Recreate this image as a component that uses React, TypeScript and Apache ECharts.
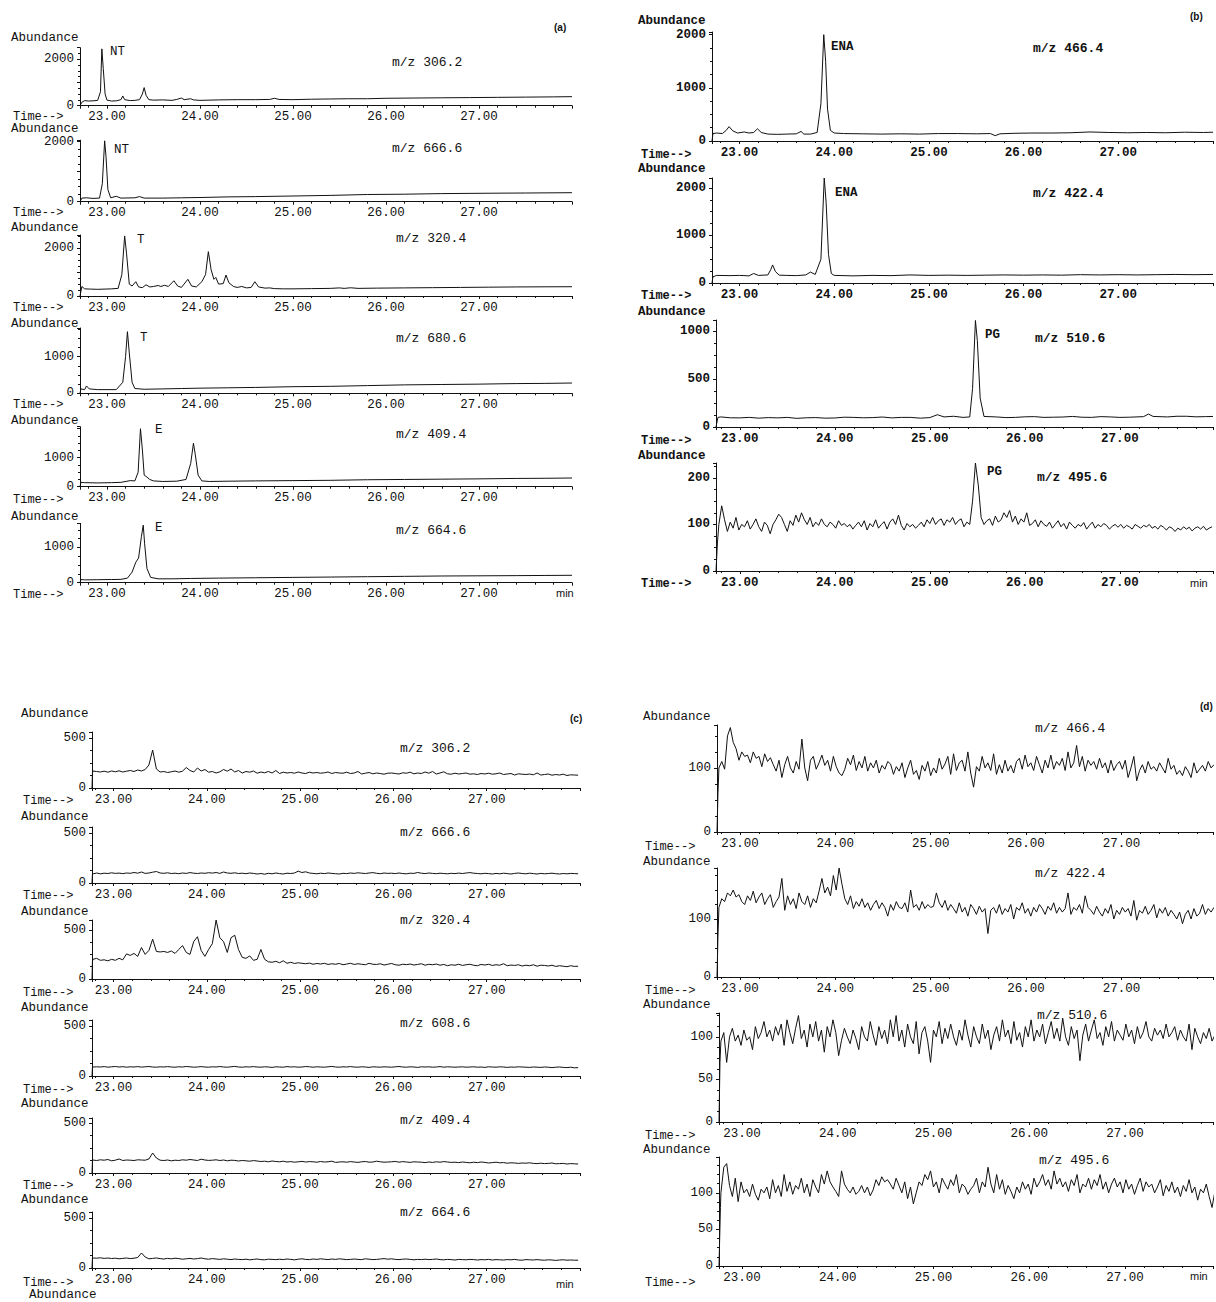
import React, { useEffect, useRef } from "react";
import * as echarts from "echarts";

// ---------- DATA (time in min, abundance) ----------
// Panel (a): sparse readings [time, abundance]
const a1Data: number[][] = [[22.71,0],[22.73,150],[22.76,220],[22.8,200],[22.85,210],[22.9,230],[22.93,600],[22.945,2450],[22.96,1600],[22.98,500],[23.0,240],[23.05,200],[23.1,210],[23.15,260],[23.17,420],[23.19,260],[23.25,220],[23.3,230],[23.35,260],[23.38,500],[23.4,780],[23.42,450],[23.45,260],[23.5,240],[23.6,250],[23.7,230],[23.75,270],[23.8,330],[23.83,260],[23.9,300],[23.93,250],[24.0,230],[24.2,250],[24.4,260],[24.6,260],[24.75,270],[24.8,320],[24.85,270],[25.0,260],[25.2,280],[25.4,290],[25.6,300],[25.8,300],[26.0,320],[26.3,330],[26.6,340],[26.9,350],[27.2,360],[27.5,370],[27.8,380],[28.0,390]];
const a2Data: number[][] = [[22.71,0],[22.73,120],[22.78,130],[22.85,110],[22.92,120],[22.95,600],[22.975,2030],[22.99,1500],[23.01,400],[23.04,130],[23.1,180],[23.15,120],[23.3,130],[23.35,170],[23.4,120],[23.6,120],[23.8,130],[24.0,140],[24.3,160],[24.6,170],[25.0,190],[25.4,210],[25.8,240],[26.2,250],[26.6,270],[27.0,280],[27.5,290],[28.0,300]];
const a3Data: number[][] = [[22.71,0],[22.73,400],[22.76,300],[22.82,290],[22.9,280],[22.98,290],[23.05,300],[23.12,320],[23.16,900],[23.19,2520],[23.21,1800],[23.24,500],[23.27,420],[23.31,600],[23.34,380],[23.38,350],[23.42,470],[23.46,380],[23.5,400],[23.55,440],[23.58,400],[23.62,450],[23.66,400],[23.72,640],[23.76,420],[23.8,360],[23.87,700],[23.91,420],[23.96,380],[24.02,600],[24.06,900],[24.09,1860],[24.12,1100],[24.15,700],[24.17,780],[24.2,500],[24.25,520],[24.28,880],[24.31,560],[24.36,400],[24.4,360],[24.45,400],[24.5,340],[24.55,360],[24.59,600],[24.63,380],[24.7,330],[24.75,340],[24.8,310],[24.9,300],[25.0,300],[25.2,310],[25.4,320],[25.5,340],[25.55,320],[25.62,345],[25.7,320],[25.9,330],[26.2,340],[26.5,350],[26.8,360],[27.1,370],[27.4,380],[27.7,385],[28.0,390]];
const a4Data: number[][] = [[22.71,0],[22.72,120],[22.76,100],[22.78,200],[22.81,120],[22.9,100],[23.0,100],[23.1,100],[23.17,300],[23.2,1000],[23.22,1680],[23.24,1100],[23.27,300],[23.3,130],[23.4,110],[23.6,120],[23.8,130],[24.0,140],[24.3,150],[24.6,160],[25.0,180],[25.4,190],[25.8,210],[26.2,230],[26.6,240],[27.0,250],[27.4,265],[27.7,270],[28.0,280]];
const a5Data: number[][] = [[22.71,0],[22.72,150],[22.76,140],[22.9,130],[23.05,140],[23.15,150],[23.25,210],[23.3,200],[23.335,500],[23.36,2000],[23.38,1300],[23.4,400],[23.43,330],[23.46,250],[23.5,200],[23.6,180],[23.75,190],[23.85,250],[23.9,800],[23.93,1500],[23.95,1100],[23.98,400],[24.02,200],[24.1,180],[24.3,190],[24.6,200],[25.0,210],[25.4,220],[25.8,240],[26.2,250],[26.6,260],[27.0,270],[27.4,285],[27.7,290],[28.0,300]];
const a6Data: number[][] = [[22.71,0],[22.72,90],[22.76,80],[22.9,85],[23.05,90],[23.15,95],[23.22,130],[23.27,300],[23.31,580],[23.34,700],[23.37,1300],[23.39,1630],[23.405,1100],[23.43,400],[23.47,150],[23.55,110],[23.7,110],[23.9,120],[24.2,130],[24.6,140],[25.0,150],[25.4,160],[25.8,170],[26.2,180],[26.6,190],[27.0,195],[27.4,200],[27.7,205],[28.0,210]];

// Panel (b)
const b1Data: number[][] = [[22.71,0],[22.72,140],[22.76,150],[22.82,140],[22.86,200],[22.89,270],[22.93,190],[22.98,150],[23.05,170],[23.1,150],[23.15,160],[23.19,230],[23.23,160],[23.3,130],[23.4,125],[23.5,130],[23.6,135],[23.65,180],[23.68,130],[23.75,130],[23.82,160],[23.86,700],[23.89,2000],[23.91,1500],[23.93,600],[23.96,200],[24.0,150],[24.1,140],[24.3,135],[24.5,130],[24.7,135],[24.9,130],[25.1,140],[25.3,140],[25.5,135],[25.65,140],[25.7,100],[25.75,135],[25.9,145],[26.1,150],[26.3,150],[26.5,155],[26.7,170],[26.9,160],[27.1,155],[27.3,160],[27.5,155],[27.7,165],[27.9,160],[28.0,165]];
const b2Data: number[][] = [[22.71,0],[22.72,130],[22.76,160],[22.9,155],[23.0,160],[23.1,150],[23.15,200],[23.2,160],[23.3,170],[23.33,280],[23.35,380],[23.38,240],[23.42,165],[23.5,160],[23.6,155],[23.7,170],[23.75,230],[23.8,180],[23.86,500],[23.895,2210],[23.915,1700],[23.94,600],[23.97,200],[24.0,160],[24.2,150],[24.4,160],[24.6,155],[24.8,170],[25.0,160],[25.2,165],[25.4,160],[25.6,165],[25.8,170],[26.0,165],[26.2,170],[26.4,165],[26.6,175],[26.8,170],[27.0,175],[27.2,170],[27.4,175],[27.6,180],[27.8,175],[28.0,180]];
const b3Data: number[][] = [[22.75,0],[22.77,100],[22.8,105],[22.9,96],[23.0,95],[23.1,100],[23.2,92],[23.3,98],[23.4,95],[23.5,100],[23.6,90],[23.7,96],[23.8,98],[23.9,92],[24.0,94],[24.1,102],[24.2,100],[24.3,96],[24.4,98],[24.5,104],[24.6,95],[24.7,100],[24.8,100],[24.9,92],[25.0,98],[25.08,128],[25.15,105],[25.25,112],[25.35,100],[25.42,105],[25.45,400],[25.48,1110],[25.5,900],[25.53,300],[25.57,110],[25.7,105],[25.8,98],[25.9,100],[26.0,106],[26.1,108],[26.2,100],[26.3,102],[26.4,104],[26.5,110],[26.6,102],[26.7,100],[26.8,108],[26.9,105],[27.0,100],[27.1,102],[27.25,108],[27.3,135],[27.35,110],[27.5,105],[27.6,112],[27.7,112],[27.8,106],[27.9,108],[27.98,110]];
// Noisy traces: readings at a fixed sampling interval
const NOISY_START = 22.78;
const STEP_B = 0.03;
const b4Start: number[][] = [[22.75,0],[22.765,60]];
const b4Values = [100,140,110,85,105,92,115,88,100,95,108,90,100,112,95,85,105,98,80,100,110,122,115,100,85,108,98,120,105,125,110,100,115,95,105,98,112,100,95,105,100,92,108,98,102,95,100,90,98,105,95,108,88,102,95,110,92,100,106,90,105,112,100,120,98,88,102,95,100,92,98,105,95,110,102,115,100,108,112,98,110,105,115,100,108,112,95,105,100,150,232,185,115,100,108,112,98,118,105,110,125,115,130,105,118,100,112,105,125,98,102,110,95,108,100,96,105,92,100,108,95,102,90,105,98,92,100,96,104,90,98,105,92,100,95,102,98,90,96,100,94,100,92,98,95,90,100,96,92,98,95,100,92,96,90,98,94,88,95,92,85,92,88,95,90,94,86,92,95,90,96,88,92,95];

// Panel (c)
const STEP_C = 0.04;
const c1Values = [170,165,160,168,158,170,162,172,160,168,175,165,180,170,185,230,380,190,160,165,155,162,170,158,168,205,175,160,200,170,185,158,165,150,162,185,168,190,160,175,150,165,158,170,148,160,152,165,150,175,145,158,150,155,148,160,150,145,158,150,155,148,152,160,145,155,150,148,158,145,150,165,140,148,155,142,150,145,138,148,150,145,140,152,148,158,142,150,145,160,148,165,140,150,162,142,138,148,140,145,150,138,142,135,145,140,148,138,142,150,135,140,145,130,142,138,135,140,132,150,130,135,140,128,135,130,138,125,132,130,128];
const c2Values = [95,100,92,98,95,102,96,99,94,100,97,105,98,110,96,100,108,115,100,97,102,95,98,93,100,96,104,98,95,100,97,103,99,105,96,110,100,97,102,95,98,93,100,96,90,95,88,97,92,100,94,90,98,95,100,118,105,112,100,96,92,98,94,100,96,93,90,97,94,100,96,102,98,95,100,104,97,93,100,96,98,94,100,95,92,98,96,105,98,94,100,96,93,98,95,92,97,94,99,95,100,104,98,95,92,97,94,90,96,92,98,94,90,96,100,95,92,98,94,90,96,92,95,98,93,90,95,92,96,94,92];
const c3Values = [200,210,190,195,185,200,190,210,195,255,240,260,230,320,250,290,405,280,275,280,270,285,260,300,340,270,250,380,430,290,230,300,360,600,420,380,270,420,445,300,220,210,235,190,200,300,200,175,170,180,165,185,160,170,158,165,160,155,162,150,158,152,160,148,155,150,158,145,152,160,148,155,150,145,160,150,148,155,142,150,158,145,140,150,146,152,142,148,155,140,150,145,152,140,148,135,145,140,150,138,145,150,140,135,148,142,150,138,145,140,155,135,142,138,145,132,140,135,145,130,140,138,132,140,128,135,130,125,135,128,130];
const c4Values = [95,92,90,94,88,92,95,90,93,88,92,90,94,89,92,95,90,88,92,90,94,90,88,92,90,95,92,88,90,94,90,88,92,90,95,90,88,92,96,90,88,92,90,94,90,88,92,90,86,92,90,88,94,90,92,88,90,95,92,88,92,90,88,92,96,90,88,92,90,94,90,88,92,90,86,92,90,88,92,90,88,92,95,90,88,92,90,86,92,90,92,88,90,94,88,92,90,88,90,92,88,90,92,88,90,86,92,90,88,92,90,86,90,88,92,90,88,86,90,88,86,90,88,84,88,90,86,84,88,82,84];
const c5Values = [130,125,132,128,135,122,128,140,125,130,128,125,132,130,128,140,200,150,128,125,130,122,128,125,132,128,135,130,125,138,130,126,128,132,125,130,122,128,126,120,125,122,118,124,120,115,118,112,120,115,112,118,110,114,108,112,116,110,114,112,108,115,110,112,118,106,110,112,108,114,110,106,112,115,108,110,118,112,108,110,112,116,108,114,110,106,112,110,108,104,110,106,112,108,114,110,106,108,104,110,106,102,108,104,110,106,100,104,108,102,104,98,102,100,96,100,98,102,96,94,98,94,96,100,92,94,96,90,94,92,90];
const c6Values = [105,98,102,96,100,95,98,92,96,100,94,98,105,150,110,92,96,100,94,90,96,92,98,94,88,92,96,90,94,100,92,88,94,90,86,92,88,84,90,86,84,88,82,86,90,84,82,88,86,84,88,84,90,86,82,88,92,86,84,90,86,92,88,84,90,86,92,88,84,86,90,86,84,92,88,84,86,90,94,88,92,86,84,88,90,86,82,86,84,88,84,86,90,84,82,86,84,80,86,84,82,86,84,80,84,82,86,80,84,82,80,84,82,86,80,78,84,82,80,84,80,78,82,80,76,80,82,78,80,78,78];

// Panel (d)
const STEP_D = 0.03;
const d1Start: number[][] = [[22.76,0],[22.77,60]];
const d1Values = [100,110,98,150,163,140,130,112,125,118,120,108,125,115,118,102,122,110,116,105,95,112,85,105,118,100,92,110,98,145,100,80,112,118,98,108,120,104,112,95,118,102,92,88,98,115,105,120,96,110,100,118,95,108,100,112,92,104,98,110,106,90,102,95,108,85,100,112,90,96,82,104,95,110,88,100,92,115,98,106,118,90,122,96,108,112,95,125,92,70,102,95,118,100,108,96,122,90,105,92,112,95,104,92,110,115,98,120,102,108,96,118,105,92,112,100,120,98,110,104,115,96,125,100,108,135,102,118,95,112,104,110,98,115,100,108,92,112,96,105,110,98,112,85,100,118,80,96,105,92,110,98,102,95,108,100,92,115,98,104,90,96,88,102,95,85,108,92,98,104,95,110,100,105];
const d2Start: number[][] = [[22.76,0],[22.77,70]];
const d2Values = [120,135,130,145,140,150,138,142,130,125,140,132,148,128,138,145,125,135,142,120,130,138,170,115,140,125,135,118,145,130,125,140,120,135,128,148,170,145,155,140,175,150,188,160,135,125,140,118,130,122,135,120,128,115,125,132,118,128,120,105,125,115,130,120,118,128,112,150,120,125,115,130,118,125,120,122,145,128,120,132,115,125,118,110,128,112,120,105,125,118,108,122,112,118,75,115,120,110,125,108,118,112,125,100,120,115,128,110,118,105,120,112,125,118,108,122,115,128,110,120,112,118,145,108,120,115,125,110,140,120,115,108,122,112,105,118,110,125,100,115,108,120,112,118,105,132,98,115,110,122,108,115,125,102,118,110,120,105,115,108,100,112,92,108,115,100,118,105,110,125,108,118,112,120];
const d3Start: number[][] = [[22.76,0],[22.77,70]];
const d3Values = [95,105,70,100,110,95,102,90,108,96,100,85,112,98,105,118,100,108,95,112,102,115,90,120,105,92,110,125,98,108,88,115,100,118,95,108,82,112,100,120,105,78,96,110,100,92,108,98,85,112,100,95,118,102,90,112,98,108,92,120,100,125,95,108,88,115,100,92,118,80,105,112,95,70,108,100,118,92,110,98,115,100,90,108,96,120,102,88,112,100,92,115,98,108,85,102,112,95,120,100,108,92,118,96,105,88,112,100,120,95,108,100,115,92,105,118,98,110,95,122,100,90,112,98,108,72,102,115,95,108,120,98,105,90,112,100,118,95,108,102,96,115,100,108,92,112,98,105,118,100,95,110,102,108,98,115,100,105,112,96,108,100,95,115,85,110,100,92,105,98,110,95,102,98];
const d4Start: number[][] = [[22.76,0],[22.775,80]];
const d4Values = [100,135,140,110,95,120,88,115,100,105,95,112,98,90,105,100,108,92,118,100,110,95,125,102,115,98,110,105,120,100,112,95,118,108,100,125,112,130,115,108,102,95,130,112,105,100,108,98,102,110,100,108,96,104,118,110,122,115,118,112,105,120,110,100,115,92,108,85,100,115,110,125,118,130,108,115,100,120,112,105,118,110,125,100,112,108,98,105,110,120,100,115,108,135,112,100,125,105,118,98,110,102,92,108,100,115,105,112,98,120,108,115,125,110,118,105,130,112,120,108,115,102,118,110,125,100,112,108,120,105,118,110,125,105,115,100,112,120,108,115,100,118,105,112,98,110,120,102,115,108,112,100,108,118,96,110,102,115,100,108,95,110,102,118,100,108,90,105,100,112,95,80,102,98];

// Tick labels shown on each abundance axis
const yLabelsA1 = [0, 2000];
const yLabelsA4 = [0, 1000];
const yLabelsB1 = [0, 1000, 2000];
const yLabelsB3 = [0, 500, 1000];
const yLabelsB4 = [0, 100, 200];
const yLabelsC = [0, 500];
const yLabelsD1 = [0, 100];
const yLabelsD3 = [0, 50, 100];
const xLabels = [23, 24, 25, 26, 27];

// ---------- helpers ----------
function sampled(prefix: number[][], start: number, step: number, values: number[]): number[][] {
  return prefix.concat(values.map((v, i) => [Number((start + i * step).toFixed(3)), v]));
}

const MONO = '"Liberation Mono", "DejaVu Sans Mono", monospace';
const SANS = '"Liberation Sans", Arial, sans-serif';
const INK = "#111";

type Tr = {
  data: number[][]; left: number; right: number; xMin: number; xMax: number;
  top: number; zero: number; yMax: number; yStep: number; yLabels: number[];
  ab: [number, number]; time: [number, number]; mz: [string, number, number];
  peak?: [string, number, number]; bold?: boolean;
};

const A = { left: 80, right: 572, xMin: 22.71, xMax: 28.0 };
const BU = { left: 712, right: 1213, xMin: 22.71, xMax: 28.0 };
const BL = { left: 716, right: 1213, xMin: 22.75, xMax: 27.98 };
const C = { left: 92, right: 580, xMin: 22.77, xMax: 28.0 };
const DU = { left: 717, right: 1213, xMin: 22.76, xMax: 27.96 };
const DL = { left: 719, right: 1213, xMin: 22.76, xMax: 27.92 };

const traces: Tr[] = [
  { ...A, data: a1Data, top: 47.7, zero: 105.7, yMax: 2500, yStep: 1000, yLabels: yLabelsA1, ab: [11, 38], time: [13, 116.5], mz: ["m/z 306.2", 392, 62], peak: ["NT", 110, 52] },
  { ...A, data: a2Data, top: 140.2, zero: 201.7, yMax: 2050, yStep: 1000, yLabels: yLabelsA1, ab: [11, 129], time: [13, 213], mz: ["m/z 666.6", 392, 148], peak: ["NT", 114, 150] },
  { ...A, data: a3Data, top: 235, zero: 296, yMax: 2560, yStep: 1000, yLabels: yLabelsA1, ab: [11, 228], time: [13, 308], mz: ["m/z 320.4", 396, 238], peak: ["T", 137, 240] },
  { ...A, data: a4Data, top: 328, zero: 393.3, yMax: 1780, yStep: 1000, yLabels: yLabelsA4, ab: [11, 324], time: [13, 405], mz: ["m/z 680.6", 396, 338], peak: ["T", 140, 338] },
  { ...A, data: a5Data, top: 426.7, zero: 486.7, yMax: 2070, yStep: 1000, yLabels: yLabelsA4, ab: [11, 421], time: [13, 500], mz: ["m/z 409.4", 396, 434], peak: ["E", 155, 430] },
  { ...A, data: a6Data, top: 523.4, zero: 582.7, yMax: 1680, yStep: 1000, yLabels: yLabelsA4, ab: [11, 517], time: [13, 595], mz: ["m/z 664.6", 396, 530], peak: ["E", 155, 528] },

  { ...BU, data: b1Data, top: 32, zero: 141, yMax: 2050, yStep: 1000, yLabels: yLabelsB1, ab: [638, 21], time: [641, 155], mz: ["m/z 466.4", 1033, 48], peak: ["ENA", 831, 47], bold: true },
  { ...BU, data: b2Data, top: 178, zero: 283, yMax: 2210, yStep: 1000, yLabels: yLabelsB1, ab: [638, 169], time: [641, 296], mz: ["m/z 422.4", 1033, 193], peak: ["ENA", 835, 193], bold: true },
  { ...BL, data: b3Data, top: 320, zero: 427, yMax: 1115, yStep: 500, yLabels: yLabelsB3, ab: [638, 312], time: [641, 441], mz: ["m/z 510.6", 1035, 338], peak: ["PG", 985, 335], bold: true },
  { ...BL, data: sampled(b4Start, NOISY_START, STEP_B, b4Values), top: 463, zero: 571, yMax: 232, yStep: 100, yLabels: yLabelsB4, ab: [638, 456], time: [641, 584], mz: ["m/z 495.6", 1037, 477], peak: ["PG", 987, 472], bold: true },

  { ...C, data: sampled([[22.77, 0], [22.775, 150]], NOISY_START, STEP_C, c1Values), top: 732, zero: 788, yMax: 560, yStep: 500, yLabels: yLabelsC, ab: [21, 714], time: [23, 801], mz: ["m/z 306.2", 400, 748] },
  { ...C, data: sampled([[22.77, 0], [22.775, 90]], NOISY_START, STEP_C, c2Values), top: 827, zero: 883, yMax: 560, yStep: 500, yLabels: yLabelsC, ab: [21, 817], time: [23, 896], mz: ["m/z 666.6", 400, 832] },
  { ...C, data: sampled([[22.77, 0], [22.775, 180]], NOISY_START, STEP_C, c3Values), top: 920, zero: 979, yMax: 600, yStep: 500, yLabels: yLabelsC, ab: [21, 912], time: [23, 993], mz: ["m/z 320.4", 400, 920] },
  { ...C, data: sampled([[22.77, 0], [22.775, 90]], NOISY_START, STEP_C, c4Values), top: 1020, zero: 1076, yMax: 560, yStep: 500, yLabels: yLabelsC, ab: [21, 1008], time: [23, 1090], mz: ["m/z 608.6", 400, 1023] },
  { ...C, data: sampled([[22.77, 0], [22.775, 120]], NOISY_START, STEP_C, c5Values), top: 1118, zero: 1173, yMax: 550, yStep: 500, yLabels: yLabelsC, ab: [21, 1104], time: [23, 1186], mz: ["m/z 409.4", 400, 1120] },
  { ...C, data: sampled([[22.77, 0], [22.775, 100]], NOISY_START, STEP_C, c6Values), top: 1212, zero: 1268, yMax: 560, yStep: 500, yLabels: yLabelsC, ab: [21, 1200], time: [23, 1283], mz: ["m/z 664.6", 400, 1212] },

  { ...DU, data: sampled(d1Start, NOISY_START, STEP_D, d1Values), top: 725, zero: 832, yMax: 167, yStep: 100, yLabels: yLabelsD1, ab: [643, 717], time: [645, 847], mz: ["m/z 466.4", 1035, 728] },
  { ...DU, data: sampled(d2Start, NOISY_START, STEP_D, d2Values), top: 868, zero: 977, yMax: 188, yStep: 100, yLabels: yLabelsD1, ab: [643, 862], time: [645, 991], mz: ["m/z 422.4", 1035, 873] },
  { ...DL, data: sampled(d3Start, NOISY_START, STEP_D, d3Values), top: 1013, zero: 1122, yMax: 128, yStep: 50, yLabels: yLabelsD3, ab: [643, 1005], time: [645, 1136], mz: ["m/z 510.6", 1037, 1015] },
  { ...DL, data: sampled(d4Start, NOISY_START, STEP_D, d4Values), top: 1157, zero: 1266, yMax: 149, yStep: 50, yLabels: yLabelsD3, ab: [643, 1150], time: [645, 1283], mz: ["m/z 495.6", 1039, 1160] },
];

function txt(text: string, x: number, y: number, size: number, family: string, bold = false, align = "left") {
  return {
    type: "text", x, y, silent: true,
    style: { text, fill: INK, fontSize: size, fontFamily: family, fontWeight: bold ? "bold" : "normal", align, verticalAlign: "middle" },
  };
}

function buildOption() {
  const grid: any[] = [], xAxis: any[] = [], yAxis: any[] = [], series: any[] = [], graphic: any[] = [];
  traces.forEach((t, i) => {
    const weight = t.bold ? "bold" : "normal";
    grid.push({ left: t.left, top: t.top, width: t.right - t.left, height: t.zero - t.top, containLabel: false });
    xAxis.push({
      gridIndex: i, type: "value", min: t.xMin, max: t.xMax, splitNumber: 5,
      splitLine: { show: false },
      axisLine: { show: true, onZero: false, lineStyle: { color: INK, width: 1 } },
      axisTick: { show: true, length: 3, lineStyle: { color: INK, width: 1 } },
      minorTick: { show: true, splitNumber: 5, length: 2, lineStyle: { color: INK, width: 1 } },
      axisLabel: {
        margin: 5, color: INK, fontSize: 12.5, fontFamily: MONO, fontWeight: weight,
        formatter: (v: number) => (xLabels.some((l) => Math.abs(l - v) < 1e-6) ? v.toFixed(2) : ""),
      },
    });
    yAxis.push({
      gridIndex: i, type: "value", min: 0, max: t.yMax, interval: t.yStep,
      splitLine: { show: false },
      axisLine: { show: true, lineStyle: { color: INK, width: 1 } },
      axisTick: { show: true, length: 3, lineStyle: { color: INK, width: 1 } },
      minorTick: { show: true, splitNumber: 4, length: 2, lineStyle: { color: INK, width: 1 } },
      axisLabel: {
        margin: 6, color: INK, fontSize: 12.5, fontFamily: MONO, fontWeight: weight,
        formatter: (v: number) => (t.yLabels.some((l) => Math.abs(l - v) < 1e-6) ? String(v) : ""),
      },
    });
    series.push({
      type: "line", xAxisIndex: i, yAxisIndex: i, data: t.data, showSymbol: false, symbol: "none",
      clip: true, silent: true, lineStyle: { color: INK, width: 1 },
    });
    graphic.push(txt("Abundance", t.ab[0], t.ab[1], 12.5, MONO, !!t.bold));
    graphic.push(txt("Time-->", t.time[0], t.time[1], 12, MONO, !!t.bold));
    graphic.push(txt(t.mz[0], t.mz[1], t.mz[2], 13, MONO, !!t.bold));
    if (t.peak) graphic.push(txt(t.peak[0], t.peak[1], t.peak[2], 12.5, MONO, !!t.bold));
  });
  graphic.push(txt("(a)", 554, 27, 10, SANS, true));
  graphic.push(txt("(b)", 1190, 16, 10, SANS, true));
  graphic.push(txt("(c)", 570, 718, 10, SANS, true));
  graphic.push(txt("(d)", 1200, 706, 10, SANS, true));
  graphic.push(txt("min", 556, 593, 11, SANS, false));
  graphic.push(txt("min", 1190, 583, 11, SANS, false));
  graphic.push(txt("min", 556, 1284, 11, SANS, false));
  graphic.push(txt("min", 1190, 1276, 11, SANS, false));
  graphic.push(txt("Abundance", 29, 1295, 12.5, MONO, false));
  return { animation: false, backgroundColor: "#ffffff", grid, xAxis, yAxis, series, graphic };
}

export default function App() {
  const ref = useRef<HTMLDivElement>(null);
  useEffect(() => {
    document.body.style.margin = "0";
    if (!ref.current) return;
    const chart = echarts.init(ref.current, undefined, { renderer: "svg" });
    chart.setOption(buildOption() as any);
    return () => chart.dispose();
  }, []);
  return <div ref={ref} style={{ width: 1216, height: 1302, background: "#fff" }} />;
}
